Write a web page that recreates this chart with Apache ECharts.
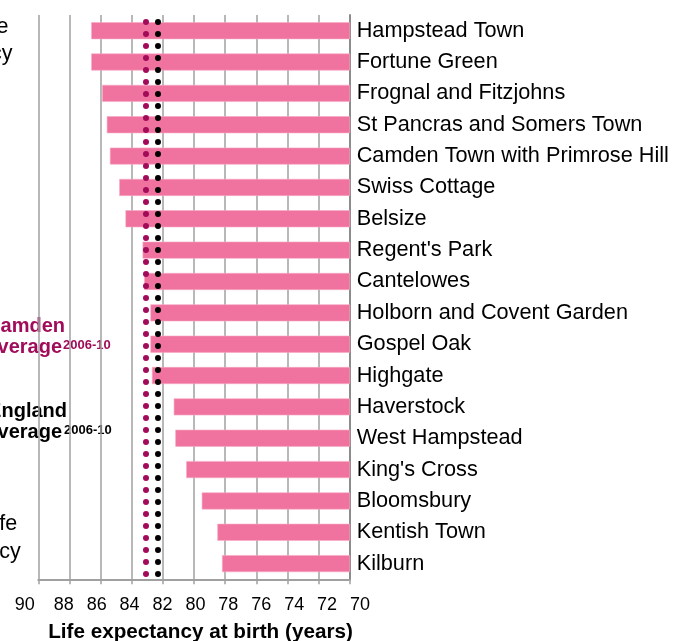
<!DOCTYPE html>
<html>
<head>
<meta charset="utf-8">
<script src="https://cdn.jsdelivr.net/npm/echarts@6/dist/echarts.min.js"></script>
<style>
  html, body { margin: 0; padding: 0; background: #fff; }
  #chart { width: 685px; height: 641px; }
</style>
</head>
<body>
<div id="chart"></div>
<script>
const wards = [
  'Hampstead Town', 'Fortune Green', 'Frognal and Fitzjohns', 'St Pancras and Somers Town',
  'Camden Town with Primrose Hill', 'Swiss Cottage', 'Belsize', "Regent's Park", 'Cantelowes',
  'Holborn and Covent Garden', 'Gospel Oak', 'Highgate', 'Haverstock', 'West Hampstead',
  "King's Cross", 'Bloomsbury', 'Kentish Town', 'Kilburn'
]
const lifeExpectancy = [
  86.6, 86.6, 85.9, 85.6, 85.4, 84.8, 84.4, 83.3, 83.2,
  82.8, 82.8, 82.7, 81.3, 81.2, 80.5, 79.5, 78.5, 78.2
]
const camdenAverage = 83.1
const englandAverage = 82.3
const axisMin = 70
const axisMax = 90
const axisStep = 2

const FONT = "'Liberation Sans', Arial, sans-serif"
const PINK = '#f0729e'
const MAGENTA = '#a00c5a'
const GRID_GREY = '#a0a0a0'

const chart = echarts.init(document.getElementById('chart'), null, { renderer: 'canvas' })

const dotted = (color) => ({
  color: color,
  width: 6,
  type: [0, 12],
  cap: 'round',
  dashOffset: 5
})

// side notes, drawn as plain text
const note = (text, x, y, opts) => ({
  type: 'text',
  x: x,
  y: y,
  silent: true,
  style: Object.assign({
    text: text,
    fill: '#000',
    font: `21.5px ${FONT}`,
    textAlign: 'right',
    textVerticalAlign: 'middle'
  }, opts || {})
})

const option = {
  animation: false,
  backgroundColor: '#fff',
  textStyle: { fontFamily: FONT },
  grid: [{
    left: 38.3,
    right: 335.3,
    top: 15,
    bottom: 61.7,
    containLabel: false
  }, {
    // only carries the tick labels, which sit a little wider than the ticks
    left: 30.8,
    right: 325,
    top: 15,
    bottom: 61.7,
    containLabel: false
  }],
  xAxis: [{
    type: 'value',
    gridIndex: 0,
    min: axisMin,
    max: axisMax,
    interval: axisStep,
    inverse: true,
    axisLine: { show: true, lineStyle: { color: GRID_GREY, width: 2 } },
    axisTick: { show: true, length: 5, lineStyle: { color: GRID_GREY, width: 1.5 } },
    axisLabel: { show: false },
    splitLine: { show: true, lineStyle: { color: GRID_GREY, width: 1.5 } }
  }, {
    type: 'value',
    gridIndex: 1,
    min: axisMin,
    max: axisMax,
    interval: axisStep,
    inverse: true,
    axisLine: { show: false },
    axisTick: { show: false },
    splitLine: { show: false },
    axisLabel: {
      show: true,
      margin: 17,
      fontSize: 18,
      fontFamily: FONT,
      color: '#000',
      formatter: (v) => v === axisMax ? `{edge|${v}}` : `${v}`,
      rich: {
        edge: { fontSize: 18, fontFamily: FONT, color: '#000', padding: [0, 12, 0, 0] }
      }
    }
  }],
  yAxis: [{
    type: 'category',
    gridIndex: 0,
    data: wards,
    inverse: true,
    position: 'right',
    axisLine: { show: true, lineStyle: { color: '#8c8c8c', width: 2 } },
    axisTick: { show: false },
    splitLine: { show: false },
    axisLabel: {
      margin: 7,
      fontSize: 21.7,
      fontFamily: FONT,
      color: '#000',
      padding: [0, 0, 6, 0]
    }
  }, {
    type: 'value',
    gridIndex: 1,
    show: false
  }],
  series: [{
    name: 'Life expectancy',
    type: 'bar',
    xAxisIndex: 0,
    yAxisIndex: 0,
    data: lifeExpectancy,
    barWidth: 17,
    clip: true,
    itemStyle: { color: PINK, borderColor: '#f7a9c4', borderWidth: 0.6 },
    markLine: {
      silent: true,
      symbol: ['none', 'none'],
      label: { show: false },
      data: [
        { xAxis: camdenAverage, lineStyle: dotted(MAGENTA) },
        { xAxis: englandAverage, lineStyle: dotted('#000') }
      ]
    }
  }],
  graphic: [
    note('Highest life', 8.5, 27),
    note('expectancy', 12.5, 54),
    note('Lowest life', 17.3, 524),
    note('expectancy', 20.7, 552),

    note('Camden', 65, 326, { fill: MAGENTA, font: `bold 20px ${FONT}` }),
    note('average', 62, 347, { fill: MAGENTA, font: `bold 20px ${FONT}` }),
    note('2006-10', 63, 345, { fill: MAGENTA, font: `bold 13px ${FONT}`, textAlign: 'left' }),

    note('England', 67, 411, { font: `bold 20px ${FONT}` }),
    note('average', 62, 432, { font: `bold 20px ${FONT}` }),
    note('2006-10', 64, 430, { font: `bold 13px ${FONT}`, textAlign: 'left' }),

    note('Life expectancy at birth (years)', 200.5, 632, {
      font: `bold 20.7px ${FONT}`,
      textAlign: 'center'
    })
  ]
}

chart.setOption(option)
window.addEventListener('resize', () => chart.resize())
</script>
</body>
</html>
